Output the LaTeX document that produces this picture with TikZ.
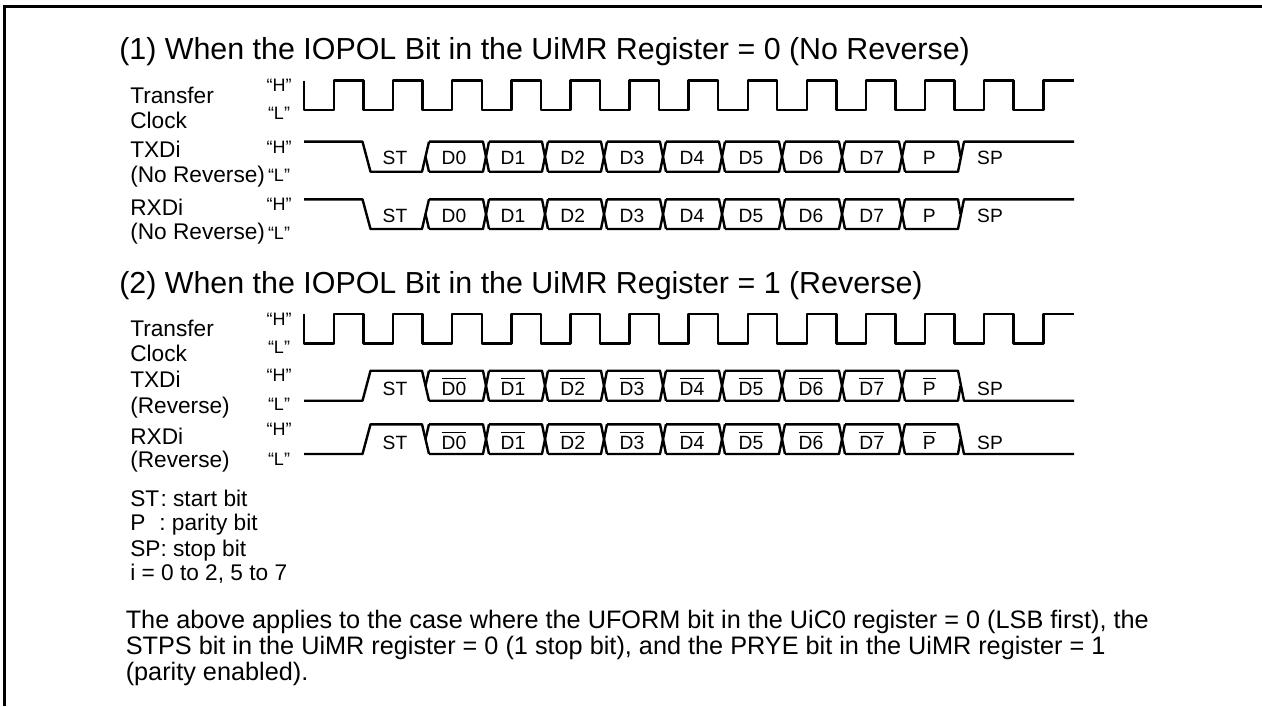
\documentclass[tikz,border=0pt]{standalone}
\usepackage{fontspec}
\setmainfont{Liberation Sans}
\usetikzlibrary{positioning}
\newcommand{\plainbit}[1]{#1}
\newcommand{\invbit}[1]{\vbox{\hrule height 0.8pt \kern 1.8pt \hbox{#1}}}

\begin{document}
\begin{tikzpicture}[
x=0.75pt,y=-0.75pt,
sig/.style={line width=1.8pt,line join=round},
frameline/.style={line width=2.25pt},
heading/.style={anchor=base west,inner sep=0pt,font=\fontsize{22.8}{27}\selectfont},
sigtext/.style={anchor=base west,inner sep=0pt,font=\fontsize{17}{20}\selectfont},
level/.style={anchor=base,inner sep=0pt,font=\fontsize{13.5}{16}\selectfont},
bit/.style={anchor=base,inner sep=0pt,font=\fontsize{14.4}{17}\selectfont},
legend/.style={anchor=base west,inner sep=0pt,font=\fontsize{17}{20}\selectfont},
note/.style={anchor=base west,inner sep=0pt,font=\fontsize{18.95}{22}\selectfont}
]
\useasboundingbox (0,0) rectangle (1262,706);
\draw[frameline] (4.5,706) -- (4.5,6.5) -- (1262,6.5);

\node[heading] (head1) at (119,60) {(1) When the IOPOL Bit in the UiMR Register = 0 (No Reverse)};
\node[heading] (head2) at (119,293.3) {(2) When the IOPOL Bit in the UiMR Register = 1 (Reverse)};

\foreach \n/\y/\t in {a/103.3/Transfer,b/128.3/Clock,c/157.3/TXDi,d/182.7/(No Reverse),
e/215/RXDi,f/239.3/(No Reverse),g/336.7/Transfer,h/361.7/Clock,i/387.3/TXDi,
j/413.3/(Reverse),k/444/RXDi,l/467.3/(Reverse)}
\node[sigtext] (name\n) at (130,\y) {\t};

\foreach \n/\y in {a/91.7,b/153.3,c/210,d/325,e/381.7,f/435.7}
\node[level] (high\n) at (279,\y) {“H”};
\foreach \n/\y in {a/120,b/181.7,c/239,d/353.3,e/410,f/465}
\node[level] (low\n) at (279,\y) {“L”};

% clocks
\foreach \hi/\lo in {80.7/110,314/343.3}
\draw[sig] (304,\hi) -- (304,\lo)
\foreach \k in {0,...,11} {
-- (334+59.1*\k,\lo) -- (334+59.1*\k,\hi)
-- (363.5+59.1*\k,\hi) -- (363.5+59.1*\k,\lo)}
-- (1043.5,\lo) -- (1043.5,\hi) -- (1074,\hi);

% data lines, the idle level comes first
\foreach \r/\u/\v/\base/\fmt in {tx1/141.7/171.7/165/\plainbit,rx1/199.3/229/222.7/\plainbit,
tx2/400.7/370.7/395/\invbit,rx2/454/424.3/449/\invbit} {
\draw[sig] (304,\u) -- (362.5,\u) -- (370.5,\v) -- (422,\v) -- (429,\u);
\draw[sig] (429,\v) -- (425.5,{(\u+\v)/2});
\foreach \a/\b in {426/486,486/545,545/604,604/663,663/722,722/782,782/842,842/902} {
\draw[sig] (\a+3,\u) -- (\b-3,\u) -- (\b+3,\v);
\draw[sig] (\a+3,\v) -- (\b-3,\v) -- (\b+3,\u);
}
\draw[sig] (905,\u) -- (958,\u) -- (960.5,{(\u+\v)/2});
\draw[sig] (905,\v) -- (958,\v) -- (964,\u) -- (1074,\u);
\node[bit] (\r st) at (395,\base) {ST};
\node[bit] (\r sp) at (990,\base) {SP};
\node[bit] (\r p) at (929.3,\base) {\fmt{P}};
\foreach \t/\x in {D0/454,D1/513,D2/572.7,D3/632,D4/692,D5/751,D6/811,D7/871.7}
\node[bit] (\r\t) at (\x,\base) {\fmt{\t}};
}

\node[legend] (legst) at (130,506) {ST\hspace{1pt}: start bit};
\node[legend] (legp) at (130,530.7) {P\hspace{10.5pt}: parity bit};
\node[legend] (legsp) at (130,556) {SP: stop bit};
\node[legend] (legi) at (130,580) {i = 0 to 2, 5 to 7};

\node[note] (notea) at (125.5,628) {The above applies to the case where the UFORM bit in the UiC0 register = 0 (LSB first), the};
\node[note] (noteb) at (125.5,654) {STPS bit in the UiMR register = 0 (1 stop bit), and the PRYE bit in the UiMR register = 1};
\node[note] (notec) at (125.5,680) {(parity enabled).};
\end{tikzpicture}
\end{document}
